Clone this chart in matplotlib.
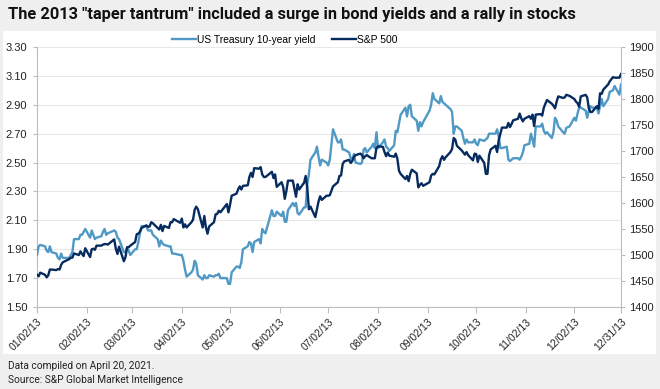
import numpy as np
import pandas as pd
import matplotlib
matplotlib.use("Agg")
import matplotlib.pyplot as plt
from matplotlib.patches import Rectangle

# trading days of 2013 (NYSE holidays removed)
holidays = ["2013-01-01", "2013-01-21", "2013-02-18", "2013-03-29", "2013-05-27",
            "2013-07-04", "2013-09-02", "2013-11-28", "2013-12-25"]
dates = pd.bdate_range("2013-01-02", "2013-12-31", freq="C", holidays=holidays)

# US Treasury 10-year yield (%), one line per month
ust = [
    1.86, 1.92, 1.93, 1.92, 1.89, 1.88, 1.92, 1.88, 1.87, 1.84, 1.83, 1.87, 1.84, 1.84, 1.86, 1.88, 1.97, 1.97, 2.00, 2.00, 2.02,
    2.04, 1.98, 2.03, 2.00, 1.97, 1.98, 1.99, 2.02, 2.04, 2.00, 2.01, 2.03, 2.02, 1.98, 1.97, 1.88, 1.88, 1.91, 1.89,
    1.86, 1.90, 1.90, 1.95, 2.01, 2.06, 2.06, 2.03, 2.03, 2.03, 2.00, 1.97, 1.92, 1.96, 1.94, 1.93, 1.92, 1.92, 1.87, 1.87,
    1.86, 1.86, 1.82, 1.76, 1.71, 1.74, 1.76, 1.82, 1.80, 1.72, 1.69, 1.72, 1.70, 1.70, 1.72, 1.71, 1.72, 1.72, 1.73, 1.70, 1.70, 1.70,
    1.66, 1.66, 1.74, 1.78, 1.78, 1.77, 1.81, 1.90, 1.92, 1.95, 1.94, 1.88, 1.95, 1.97, 1.94, 2.04, 2.02, 2.01, 2.17, 2.13, 2.13, 2.16,
    2.13, 2.16, 2.09, 2.09, 2.17, 2.22, 2.20, 2.22, 2.15, 2.14, 2.19, 2.19, 2.35, 2.42, 2.52, 2.57, 2.61, 2.54, 2.48, 2.52,
    2.50, 2.48, 2.52, 2.73, 2.64, 2.64, 2.66, 2.59, 2.59, 2.57, 2.53, 2.52, 2.56, 2.50, 2.49, 2.50, 2.59, 2.60, 2.57, 2.61, 2.63, 2.60,
    2.71, 2.60, 2.64, 2.66, 2.61, 2.60, 2.58, 2.62, 2.72, 2.71, 2.77, 2.83, 2.88, 2.82, 2.89, 2.90, 2.82, 2.79, 2.72, 2.78, 2.75, 2.78,
    2.86, 2.90, 2.98, 2.94, 2.91, 2.96, 2.92, 2.91, 2.90, 2.87, 2.85, 2.70, 2.75, 2.75, 2.72, 2.67, 2.63, 2.66, 2.64, 2.64,
    2.66, 2.63, 2.62, 2.66, 2.65, 2.66, 2.67, 2.70, 2.70, 2.70, 2.73, 2.68, 2.60, 2.60, 2.61, 2.52, 2.51, 2.52, 2.53, 2.53, 2.52, 2.54, 2.57,
    2.62, 2.63, 2.70, 2.66, 2.61, 2.75, 2.75, 2.77, 2.72, 2.70, 2.71, 2.67, 2.71, 2.81, 2.79, 2.75, 2.71, 2.70, 2.74, 2.75,
    2.81, 2.79, 2.84, 2.88, 2.88, 2.86, 2.81, 2.86, 2.89, 2.88, 2.88, 2.84, 2.89, 2.94, 2.89, 2.94, 2.99, 3.00, 3.03, 2.97, 3.04,
]

# S&P 500 close, one line per month
spx = [
    1462, 1459, 1466, 1462, 1457, 1461, 1472, 1472, 1471, 1473, 1472, 1481, 1486, 1492, 1495, 1495, 1503, 1500, 1507, 1502, 1498,
    1513, 1496, 1511, 1512, 1510, 1518, 1518, 1520, 1521, 1521, 1520, 1530, 1512, 1502, 1516, 1488, 1496, 1515, 1515,
    1518, 1525, 1540, 1541, 1545, 1552, 1557, 1554, 1555, 1563, 1561, 1552, 1549, 1558, 1546, 1556, 1552, 1563, 1563, 1569,
    1562, 1570, 1553, 1559, 1553, 1563, 1568, 1587, 1593, 1588, 1553, 1575, 1553, 1541, 1555, 1563, 1578, 1579, 1585, 1582, 1594, 1598,
    1582, 1597, 1614, 1618, 1626, 1632, 1626, 1633, 1634, 1650, 1658, 1650, 1667, 1666, 1669, 1655, 1650, 1650, 1660, 1648, 1655, 1631,
    1640, 1631, 1608, 1623, 1643, 1643, 1627, 1612, 1636, 1626, 1639, 1652, 1629, 1588, 1593, 1573, 1588, 1603, 1613, 1606,
    1614, 1614, 1615, 1632, 1640, 1652, 1653, 1675, 1680, 1683, 1677, 1681, 1689, 1692, 1695, 1692, 1686, 1690, 1692, 1686, 1686, 1686,
    1706, 1709, 1708, 1698, 1690, 1697, 1691, 1689, 1695, 1685, 1662, 1656, 1646, 1652, 1642, 1656, 1664, 1657, 1630, 1635, 1638, 1633,
    1640, 1653, 1656, 1655, 1671, 1684, 1690, 1683, 1688, 1698, 1704, 1725, 1722, 1710, 1701, 1697, 1693, 1698, 1692, 1682,
    1695, 1694, 1679, 1691, 1677, 1656, 1656, 1692, 1703, 1710, 1698, 1721, 1733, 1745, 1745, 1754, 1746, 1752, 1759, 1762, 1772, 1763, 1757,
    1762, 1767, 1762, 1770, 1748, 1770, 1771, 1768, 1783, 1791, 1798, 1791, 1787, 1782, 1795, 1805, 1802, 1803, 1808, 1806,
    1800, 1795, 1792, 1785, 1805, 1808, 1803, 1782, 1775, 1775, 1786, 1781, 1811, 1810, 1818, 1828, 1834, 1842, 1841, 1841, 1848,
]

tick_dates = ["2013-01-02", "2013-02-02", "2013-03-02", "2013-04-02", "2013-05-02", "2013-06-02",
              "2013-07-02", "2013-08-02", "2013-09-02", "2013-10-02", "2013-11-02", "2013-12-02", "2013-12-31"]
tick_labels = ["01/02/13", "02/02/13", "03/02/13", "04/02/13", "05/02/13", "06/02/13",
               "07/02/13", "08/02/13", "09/02/13", "10/02/13", "11/02/13", "12/02/13", "12/31/13"]
left_ticks = [1.50, 1.70, 1.90, 2.10, 2.30, 2.50, 2.70, 2.90, 3.10, 3.30]
right_ticks = [1400, 1450, 1500, 1550, 1600, 1650, 1700, 1750, 1800, 1850, 1900]

LIGHT = "#5099c5"
DARK = "#062b5e"
GRID = "#e8e8e8"
SPINE = "#bdbdbd"

plt.rcParams["font.family"] = ["Liberation Sans", "DejaVu Sans"]

fig = plt.figure(figsize=(6.6, 3.89), dpi=100)
fig.patch.set_facecolor("#efefef")
# white panel behind the chart
fig.patches.append(Rectangle((3 / 660, 1 - 354 / 389), 653 / 660, 323 / 389,
                             transform=fig.transFigure, facecolor="white", edgecolor="none", zorder=-5))

ax = fig.add_axes([37 / 660, 1 - 307 / 389, 584 / 660, 260 / 389])
ax2 = ax.twinx()

l1, = ax.plot(dates, ust, color=LIGHT, lw=1.7, zorder=3)
l2, = ax2.plot(dates, spx, color=DARK, lw=1.7, zorder=3)

ax.set_ylim(1.50, 3.30)
ax.set_yticks(left_ticks)
ax.set_yticklabels([f"{v:.2f}" for v in left_ticks])
ax2.set_ylim(1400, 1900)
ax2.set_yticks(right_ticks)

xt = pd.to_datetime(tick_dates)
ax.set_xlim(xt[0], xt[-1])
ax.set_xticks(xt)
ax.set_xticklabels(tick_labels, rotation=45, ha="right", rotation_mode="anchor")

ax.grid(axis="y", color=GRID, lw=0.8)
ax.set_axisbelow(True)
ax.set_facecolor("none")
ax2.set_facecolor("none")

for a in (ax, ax2):
    for s in a.spines.values():
        s.set_color(SPINE)
    a.spines["top"].set_visible(False)
ax.spines["right"].set_visible(False)
ax2.spines["left"].set_visible(False)
ax2.spines["bottom"].set_visible(False)

ax.tick_params(axis="x", colors=SPINE, labelcolor="#222222", labelsize=7.5, length=4, pad=3)
ax.tick_params(axis="y", colors=SPINE, labelcolor="#222222", labelsize=8, length=3, pad=4)
ax2.tick_params(axis="y", colors=SPINE, labelcolor="#222222", labelsize=8, length=3, pad=3)

# grid of the left axis stays behind the S&P line
ax2.set_zorder(ax.get_zorder() + 1)

fig.legend([l1, l2], ["US Treasury 10-year yield", "S&P 500"], loc="center",
           bbox_to_anchor=(285 / 660, 1 - 40 / 389), ncol=2, frameon=False, fontsize=7.4,
           handlelength=2.3, handletextpad=0.15, columnspacing=1.6)

fig.text(8 / 660, 1 - 14 / 389, 'The 2013 "taper tantrum" included a surge in bond yields and a rally in stocks',
         fontsize=11.8, fontweight="bold", va="center", ha="left", color="#111111",
         family=["Roboto", "DejaVu Sans"])
fig.text(8 / 660, 1 - 366 / 389, "Data compiled on April 20, 2021.", fontsize=7.3, va="center",
         color="#222222", family=["Roboto", "DejaVu Sans"])
fig.text(8 / 660, 1 - 380 / 389, "Source: S&P Global Market Intelligence", fontsize=7.3, va="center",
         color="#222222", family=["Roboto", "DejaVu Sans"])

fig.savefig("out.png", dpi=100, facecolor=fig.get_facecolor())
